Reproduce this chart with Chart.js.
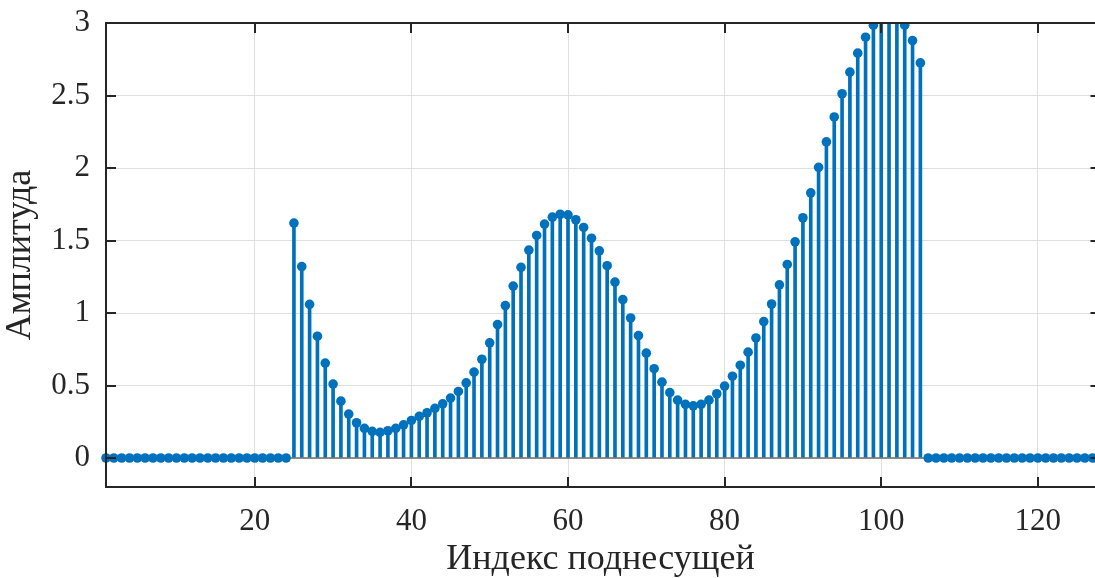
<!DOCTYPE html>
<html>
<head>
<meta charset="utf-8">
<script src="https://cdn.jsdelivr.net/npm/chart.js@4"></script>
<style>
  html, body { margin: 0; padding: 0; background: #fff; overflow: hidden; }
  #chart { display: block; }
</style>
</head>
<body>
<canvas id="chart" width="1095" height="578"></canvas>
<script>
// amplitude per subcarrier index 1..128
const amplitude = [
  0, 0, 0, 0, 0, 0, 0, 0, 0, 0, 0, 0, 0, 0, 0, 0, 0, 0, 0, 0, 0, 0, 0, 0,
  1.62, 1.32, 1.06, 0.84, 0.655, 0.51, 0.392, 0.303, 0.243, 0.204,
  0.184, 0.177, 0.188, 0.204, 0.229, 0.259, 0.287, 0.312, 0.342, 0.374,
  0.413, 0.459, 0.518, 0.592, 0.681, 0.794, 0.92, 1.051, 1.186, 1.315,
  1.434, 1.535, 1.613, 1.661, 1.681, 1.677, 1.643, 1.59, 1.516, 1.429,
  1.326, 1.213, 1.092, 0.966, 0.844, 0.723, 0.616, 0.523, 0.451, 0.399,
  0.37, 0.36, 0.37, 0.399, 0.443, 0.496, 0.564, 0.64, 0.73, 0.828,
  0.941, 1.062, 1.194, 1.335, 1.491, 1.657, 1.829, 2.005, 2.18, 2.352,
  2.512, 2.661, 2.792, 2.902, 2.985, 3.04, 3.06, 3.04, 2.985, 2.879,
  2.725,
  0, 0, 0, 0, 0, 0, 0, 0, 0, 0, 0, 0, 0, 0, 0, 0, 0, 0, 0, 0, 0, 0, 0
];
const subcarrier = amplitude.map((v, i) => i + 1);
const xTicks = [20, 40, 60, 80, 100, 120];
const yTicks = [0, 0.5, 1, 1.5, 2, 2.5, 3];
const xLimits = [1, 128];      // MATLAB xlim; the right part falls off the picture
const xVisibleMax = 127.3;     // index visible at the window edge
const yRange = [-0.2, 3];

const blue = '#0072BD';
const ink = '#262626';
const serif = "'Liberation Serif', 'Times New Roman', serif";

const points = subcarrier.map((x, i) => ({ x: x, y: amplitude[i] }));

// no extra room around the plot for the outer tick labels
function noScalePadding(s) {
  s.paddingTop = 0;
  s.paddingBottom = 0;
  s.paddingLeft = 0;
  s.paddingRight = 0;
}

// axes lines with MATLAB-style inward ticks; right axis sits past the edge
const axesBox = {
  id: 'axesBox',
  afterDatasetsDraw(chart) {
    const { ctx, chartArea: a, scales: { x, y } } = chart;
    const rightAxis = x.getPixelForValue(xLimits[1]);
    ctx.save();
    ctx.strokeStyle = ink;
    ctx.lineWidth = 2;
    ctx.beginPath();
    ctx.moveTo(a.right + 2, a.top); ctx.lineTo(a.left, a.top);
    ctx.lineTo(a.left, a.bottom); ctx.lineTo(a.right + 2, a.bottom);
    xTicks.forEach(v => {
      const px = Math.round(x.getPixelForValue(v));
      ctx.moveTo(px, a.bottom); ctx.lineTo(px, a.bottom - 10);
      ctx.moveTo(px, a.top); ctx.lineTo(px, a.top + 10);
    });
    yTicks.forEach(v => {
      const py = Math.round(y.getPixelForValue(v));
      ctx.moveTo(a.left, py); ctx.lineTo(a.left + 10, py);
      ctx.moveTo(rightAxis, py); ctx.lineTo(rightAxis - 10, py);
    });
    ctx.stroke();
    ctx.restore();
  }
};

new Chart(document.getElementById('chart'), {
  type: 'bar',
  data: {
    datasets: [
      {
        type: 'line',
        data: points,
        showLine: false,
        pointRadius: 4.8,
        pointHoverRadius: 4.8,
        pointBorderWidth: 0,
        pointBackgroundColor: blue,
        clip: { left: 6, right: 6, top: 0, bottom: 6 },
        order: 0
      },
      {
        type: 'line',
        data: [{ x: xLimits[0], y: 0 }, { x: xLimits[1], y: 0 }],
        borderColor: '#6e6e6e',
        borderWidth: 1.5,
        pointRadius: 0,
        order: 1
      },
      {
        type: 'bar',
        data: points,
        backgroundColor: blue,
        barThickness: 3,
        clip: 0,
        order: 2
      }
    ]
  },
  options: {
    responsive: false,
    animation: false,
    events: [],
    layout: { autoPadding: false, padding: { left: 0, top: 23, right: 0, bottom: 0 } },
    plugins: { legend: { display: false }, tooltip: { enabled: false } },
    scales: {
      x: {
        type: 'linear',
        min: xLimits[0],
        max: xVisibleMax,
        offset: false,
        afterBuildTicks: s => { s.ticks = xTicks.map(v => ({ value: v })); },
        afterFit: s => { s.height = 91; noScalePadding(s); },
        grid: { color: '#dfdfdf', lineWidth: 1, drawTicks: false, offset: false },
        border: { display: false },
        ticks: {
          color: ink,
          padding: 16,
          maxRotation: 0,
          font: { family: serif, size: 31 },
          callback: v => String(v)
        },
        title: {
          display: true,
          text: 'Индекс поднесущей',
          color: ink,
          font: { family: serif, size: 36, lineHeight: 1 },
          padding: { top: 0, bottom: 0.5 }
        }
      },
      y: {
        min: yRange[0],
        max: yRange[1],
        afterBuildTicks: s => { s.ticks = yTicks.map(v => ({ value: v })); },
        afterFit: s => { s.width = 106; noScalePadding(s); },
        grid: { color: '#dfdfdf', lineWidth: 1, drawTicks: false },
        border: { display: false },
        ticks: {
          color: ink,
          padding: 16,
          font: { family: serif, size: 31 },
          callback: v => String(v)
        },
        title: {
          display: true,
          text: 'Амплитуда',
          color: ink,
          font: { family: serif, size: 36, lineHeight: 1 },
          padding: { top: 3, bottom: 0 }
        }
      }
    }
  },
  plugins: [axesBox]
});
</script>
</body>
</html>
